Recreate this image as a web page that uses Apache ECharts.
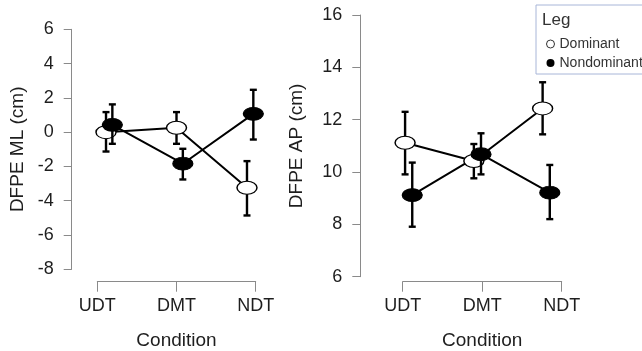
<!DOCTYPE html>
<html>
<head>
<meta charset="utf-8">
<script src="https://cdn.jsdelivr.net/npm/echarts@6/dist/echarts.min.js"></script>
<style>
html,body{margin:0;padding:0;background:#fff;}
#c{width:642px;height:351px;}
</style>
</head>
<body>
<div id="c"></div>
<script>
// ---- data ----
const categories = ['UDT', 'DMT', 'NDT'];
const seriesNames = ['Dominant', 'Nondominant'];

const mlDominant = [0.0, 0.26, -3.24];
const mlDominantLo = [-1.13, -0.68, -4.86];
const mlDominantHi = [1.17, 1.17, -1.69];
const mlNondominant = [0.43, -1.84, 1.07];
const mlNondominantLo = [-0.68, -2.76, -0.43];
const mlNondominantHi = [1.62, -0.97, 2.47];

const apDominant = [11.12, 10.42, 12.43];
const apDominantLo = [9.91, 9.76, 11.44];
const apDominantHi = [12.3, 11.07, 13.43];
const apNondominant = [9.12, 10.68, 9.21];
const apNondominantLo = [7.91, 9.91, 8.2];
const apNondominantHi = [10.36, 11.48, 10.27];

const mlTicks = [-8, -6, -4, -2, 0, 2, 4, 6];
const apTicks = [6, 8, 10, 12, 14, 16];

// ---- layout (dodge positions of points relative to category ticks) ----
const dodge = [
  {step: 0.89, offDom: 0.11, offNon: 0.19},
  {step: 0.865, offDom: 0.03, offNon: 0.12}
];

const FONT = 'Liberation Sans, Arial, sans-serif';
const AXIS_COLOR = '#8a8a8a';
const TEXT_COLOR = '#1e1e1e';

function pos(i, panel, off) { return i * dodge[panel].step + off; }

function pts(vals, panel, off) {
  return vals.map((v, i) => [pos(i, panel, off), v]);
}
function bars(lo, hi, panel, off) {
  return lo.map((l, i) => [pos(i, panel, off), l, hi[i]]);
}

function errRender(params, api) {
  const x = api.value(0);
  const lo = api.coord([x, api.value(1)]);
  const hi = api.coord([x, api.value(2)]);
  const cap = 3.5;
  const st = {stroke: '#000', lineWidth: 2.4};
  return {
    type: 'group',
    children: [
      {type: 'line', shape: {x1: lo[0], y1: lo[1], x2: hi[0], y2: hi[1]}, style: st},
      {type: 'line', shape: {x1: lo[0] - cap, y1: lo[1], x2: lo[0] + cap, y2: lo[1]}, style: st},
      {type: 'line', shape: {x1: hi[0] - cap, y1: hi[1], x2: hi[0] + cap, y2: hi[1]}, style: st}
    ]
  };
}

function panelSeries(panel, dom, domLo, domHi, non, nonLo, nonHi) {
  const d = dodge[panel];
  const base = {xAxisIndex: panel, yAxisIndex: panel};
  return [
    Object.assign({type: 'line', name: 'lineD' + panel, data: pts(dom, panel, d.offDom), showSymbol: false,
      lineStyle: {color: '#000', width: 2}, z: 2, silent: true}, base),
    Object.assign({type: 'line', name: 'lineN' + panel, data: pts(non, panel, d.offNon), showSymbol: false,
      lineStyle: {color: '#000', width: 2}, z: 2, silent: true}, base),
    Object.assign({type: 'custom', name: 'errD' + panel, data: bars(domLo, domHi, panel, d.offDom),
      renderItem: errRender, z: 3}, base),
    Object.assign({type: 'scatter', name: seriesNames[0], data: pts(dom, panel, d.offDom),
      symbol: 'circle', symbolSize: [20, 13],
      itemStyle: {color: '#fff', borderColor: '#000', borderWidth: 1.2, opacity: 1}, z: 4}, base),
    Object.assign({type: 'custom', name: 'errN' + panel, data: bars(nonLo, nonHi, panel, d.offNon),
      renderItem: errRender, z: 5}, base),
    Object.assign({type: 'scatter', name: seriesNames[1], data: pts(non, panel, d.offNon),
      symbol: 'circle', symbolSize: [20, 13],
      itemStyle: {color: '#000', borderColor: '#000', borderWidth: 1, opacity: 1}, z: 6}, base)
  ];
}

function yAxisCfg(gridIndex, ticks, name, offset, nameGap) {
  return {
    type: 'value', gridIndex: gridIndex,
    min: ticks[0], max: ticks[ticks.length - 1], interval: ticks[1] - ticks[0],
    offset: offset,
    axisLine: {show: true, onZero: false, lineStyle: {color: AXIS_COLOR, width: 1}},
    axisTick: {show: true, length: 8, lineStyle: {color: AXIS_COLOR}},
    axisLabel: {fontSize: 18, color: TEXT_COLOR, fontFamily: FONT, margin: 18},
    splitLine: {show: false},
    name: name, nameLocation: 'middle', nameGap: nameGap,
    nameTextStyle: {fontSize: 19, color: TEXT_COLOR, fontFamily: FONT}
  };
}
function xAxisCfg(gridIndex, offset) {
  return {
    type: 'value', gridIndex: gridIndex, min: 0, max: categories.length - 1, interval: 1,
    offset: offset,
    axisLine: {show: true, onZero: false, lineStyle: {color: AXIS_COLOR, width: 1}},
    axisTick: {show: true, length: 10, lineStyle: {color: AXIS_COLOR}},
    axisLabel: {fontSize: 18, color: TEXT_COLOR, fontFamily: FONT, margin: 15,
      formatter: v => categories[Math.round(v)] || ''},
    splitLine: {show: false},
    name: 'Condition', nameLocation: 'middle', nameGap: 50,
    nameTextStyle: {fontSize: 19, color: TEXT_COLOR, fontFamily: FONT}
  };
}

const chart = echarts.init(document.getElementById('c'), null, {renderer: 'canvas'});
chart.setOption({
  animation: false,
  backgroundColor: '#fff',
  grid: [
    {left: 97.3, top: 29.3, width: 158.4, height: 240, containLabel: false, outerBoundsMode: 'none'},
    {left: 402.7, top: 15, width: 159, height: 261.7, containLabel: false, outerBoundsMode: 'none'}
  ],
  xAxis: [xAxisCfg(0, 12.4), xAxisCfg(1, 5)],
  yAxis: [
    yAxisCfg(0, mlTicks, 'DFPE ML (cm)', 25.6, 44),
    yAxisCfg(1, apTicks, 'DFPE AP (cm)', 42.4, 54)
  ],
  legend: {
    data: [
      {name: seriesNames[0], itemStyle: {color: '#fff', borderColor: '#333', borderWidth: 1}},
      {name: seriesNames[1], itemStyle: {color: '#000', borderColor: '#000', borderWidth: 0}}
    ],
    orient: 'vertical', left: 541, top: 32, itemGap: 5,
    icon: 'circle', itemWidth: 8, itemHeight: 8,
    textStyle: {fontSize: 14, color: '#333', fontFamily: FONT, padding: [0, 0, 0, 0]},
    selectedMode: false
  },
  graphic: [
    {type: 'rect', shape: {x: 536, y: 5, width: 110, height: 69},
      style: {fill: '#fff', stroke: '#a8b6d8', lineWidth: 1}, z: 0},
    {type: 'text', x: 542, y: 20, style: {text: 'Leg', fontSize: 17, fill: '#333', fontFamily: FONT,
      verticalAlign: 'middle'}, z: 1}
  ],
  series: [].concat(
    panelSeries(0, mlDominant, mlDominantLo, mlDominantHi, mlNondominant, mlNondominantLo, mlNondominantHi),
    panelSeries(1, apDominant, apDominantLo, apDominantHi, apNondominant, apNondominantLo, apNondominantHi)
  )
});
</script>
</body>
</html>
